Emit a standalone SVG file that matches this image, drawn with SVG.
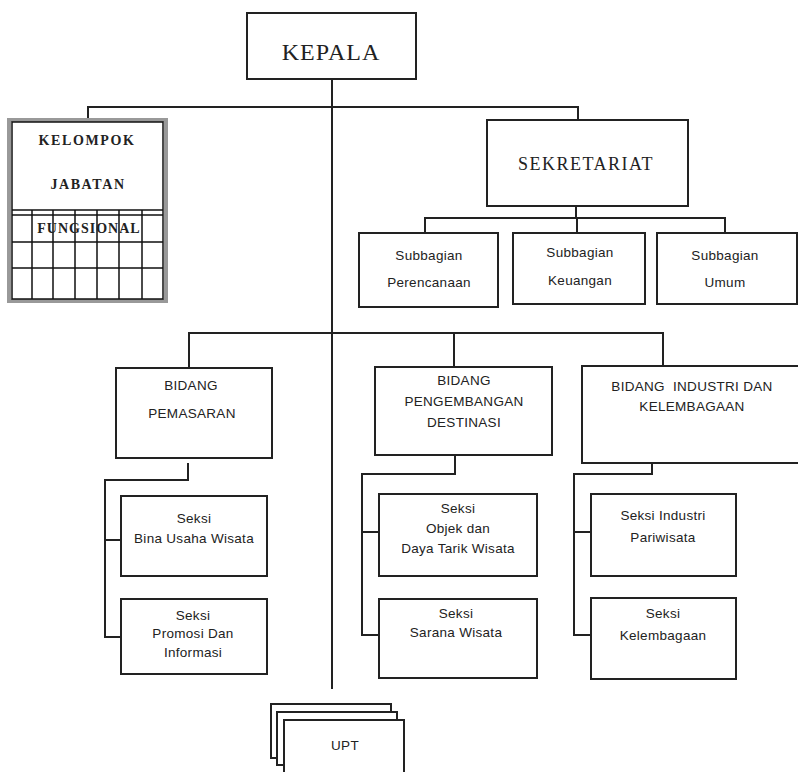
<svg xmlns="http://www.w3.org/2000/svg" width="798" height="772" viewBox="0 0 798 772">
<style>
.box{fill:#fff;stroke:#222;stroke-width:2}
.ln{fill:none;stroke:#222;stroke-width:2}
.serif{font-family:"Liberation Serif","Times New Roman",serif;fill:#222;text-anchor:middle}
.sans{font-family:"Liberation Sans",Arial,sans-serif;font-size:13.5px;letter-spacing:0.3px;fill:#222;text-anchor:middle}
.grid{stroke:#111;stroke-width:1.5;fill:none}
</style>
<rect width="798" height="772" fill="#fff"/>
<g id="connectors">
<path class="ln" d="M332 79 V689"/>
<path class="ln" d="M88 121 V107 H578 V120"/>
<path class="ln" d="M576 206 V218 M425 233 V218 H725 V233 M577 218 V233"/>
<path class="ln" d="M189 368 V333 H663 V366 M454 333 V367"/>
<path class="ln" d="M188 463 V480 H105 V637 H121 M105 540 H121"/>
<path class="ln" d="M455 455 V474 H362 V635 H379 M362 532 H379"/>
<path class="ln" d="M652 457 V474 H574 V635 H591 M574 532 H591"/>
</g>
<g id="kepala">
<rect class="box" x="247" y="13" width="169" height="66"/>
<text class="serif" x="331" y="60" font-size="24" letter-spacing="1">KEPALA</text>
</g>
<g id="kelompok">
<rect x="9" y="120" width="157" height="181" fill="#fff" stroke="#999" stroke-width="4"/>
<rect x="12" y="122" width="151" height="177" fill="none" stroke="#111" stroke-width="1.5"/>
<path class="grid" d="M12 210 H163 M12 215 H163 M12 242 H163 M12 268 H163 M32 210 V299 M53 210 V299 M75 210 V299 M97 210 V299 M119 210 V299 M142 210 V299"/>
<text class="serif" x="87" y="145" font-size="14" font-weight="bold" letter-spacing="1.6">KELOMPOK</text>
<text class="serif" x="88" y="189" font-size="14" font-weight="bold" letter-spacing="1.6">JABATAN</text>
<text class="serif" x="89" y="233" font-size="14" font-weight="bold" letter-spacing="1">FUNGSIONAL</text>
</g>
<g id="sekretariat">
<rect class="box" x="487" y="120" width="201" height="86"/>
<text class="serif" x="586" y="170" font-size="18" letter-spacing="1.5">SEKRETARIAT</text>
</g>
<g id="sub-perencanaan">
<rect class="box" x="359" y="233" width="139" height="74"/>
<text class="sans" x="429" y="260">Subbagian</text>
<text class="sans" x="429" y="287">Perencanaan</text>
</g>
<g id="sub-keuangan">
<rect class="box" x="513" y="233" width="132" height="71"/>
<text class="sans" x="580" y="257">Subbagian</text>
<text class="sans" x="580" y="285">Keuangan</text>
</g>
<g id="sub-umum">
<rect class="box" x="657" y="233" width="140" height="71"/>
<text class="sans" x="725" y="260">Subbagian</text>
<text class="sans" x="725" y="287">Umum</text>
</g>
<g id="bidang-pemasaran">
<rect class="box" x="116" y="368" width="156" height="90"/>
<text class="sans" x="191" y="390">BIDANG</text>
<text class="sans" x="192" y="418">PEMASARAN</text>
</g>
<g id="bidang-pengembangan">
<rect class="box" x="375" y="367" width="177" height="88"/>
<text class="sans" x="464" y="385">BIDANG</text>
<text class="sans" x="464" y="406">PENGEMBANGAN</text>
<text class="sans" x="464" y="427">DESTINASI</text>
</g>
<g id="bidang-industri">
<rect class="box" x="582" y="366" width="220" height="97"/>
<text class="sans" x="692" y="391" xml:space="preserve">BIDANG  INDUSTRI DAN</text>
<text class="sans" x="692" y="411">KELEMBAGAAN</text>
</g>
<g id="seksi-bina">
<rect class="box" x="121" y="496" width="146" height="80"/>
<text class="sans" x="194" y="523">Seksi</text>
<text class="sans" x="194" y="543">Bina Usaha Wisata</text>
</g>
<g id="seksi-promosi">
<rect class="box" x="121" y="599" width="146" height="75"/>
<text class="sans" x="193" y="620">Seksi</text>
<text class="sans" x="193" y="638">Promosi Dan</text>
<text class="sans" x="193" y="657">Informasi</text>
</g>
<g id="seksi-objek">
<rect class="box" x="379" y="494" width="158" height="82"/>
<text class="sans" x="458" y="513">Seksi</text>
<text class="sans" x="458" y="533">Objek dan</text>
<text class="sans" x="458" y="553">Daya Tarik Wisata</text>
</g>
<g id="seksi-sarana">
<rect class="box" x="379" y="599" width="158" height="79"/>
<text class="sans" x="456" y="618">Seksi</text>
<text class="sans" x="456" y="637">Sarana Wisata</text>
</g>
<g id="seksi-industri">
<rect class="box" x="591" y="494" width="145" height="82"/>
<text class="sans" x="663" y="520">Seksi Industri</text>
<text class="sans" x="663" y="542">Pariwisata</text>
</g>
<g id="seksi-kelembagaan">
<rect class="box" x="591" y="598" width="145" height="81"/>
<text class="sans" x="663" y="618">Seksi</text>
<text class="sans" x="663" y="640">Kelembagaan</text>
</g>
<g id="upt">
<rect class="box" x="271" y="704" width="120" height="54"/>
<rect class="box" x="277" y="712" width="120" height="53"/>
<rect class="box" x="284" y="720" width="120" height="60"/>
<text class="sans" x="345" y="750">UPT</text>
</g>
</svg>
